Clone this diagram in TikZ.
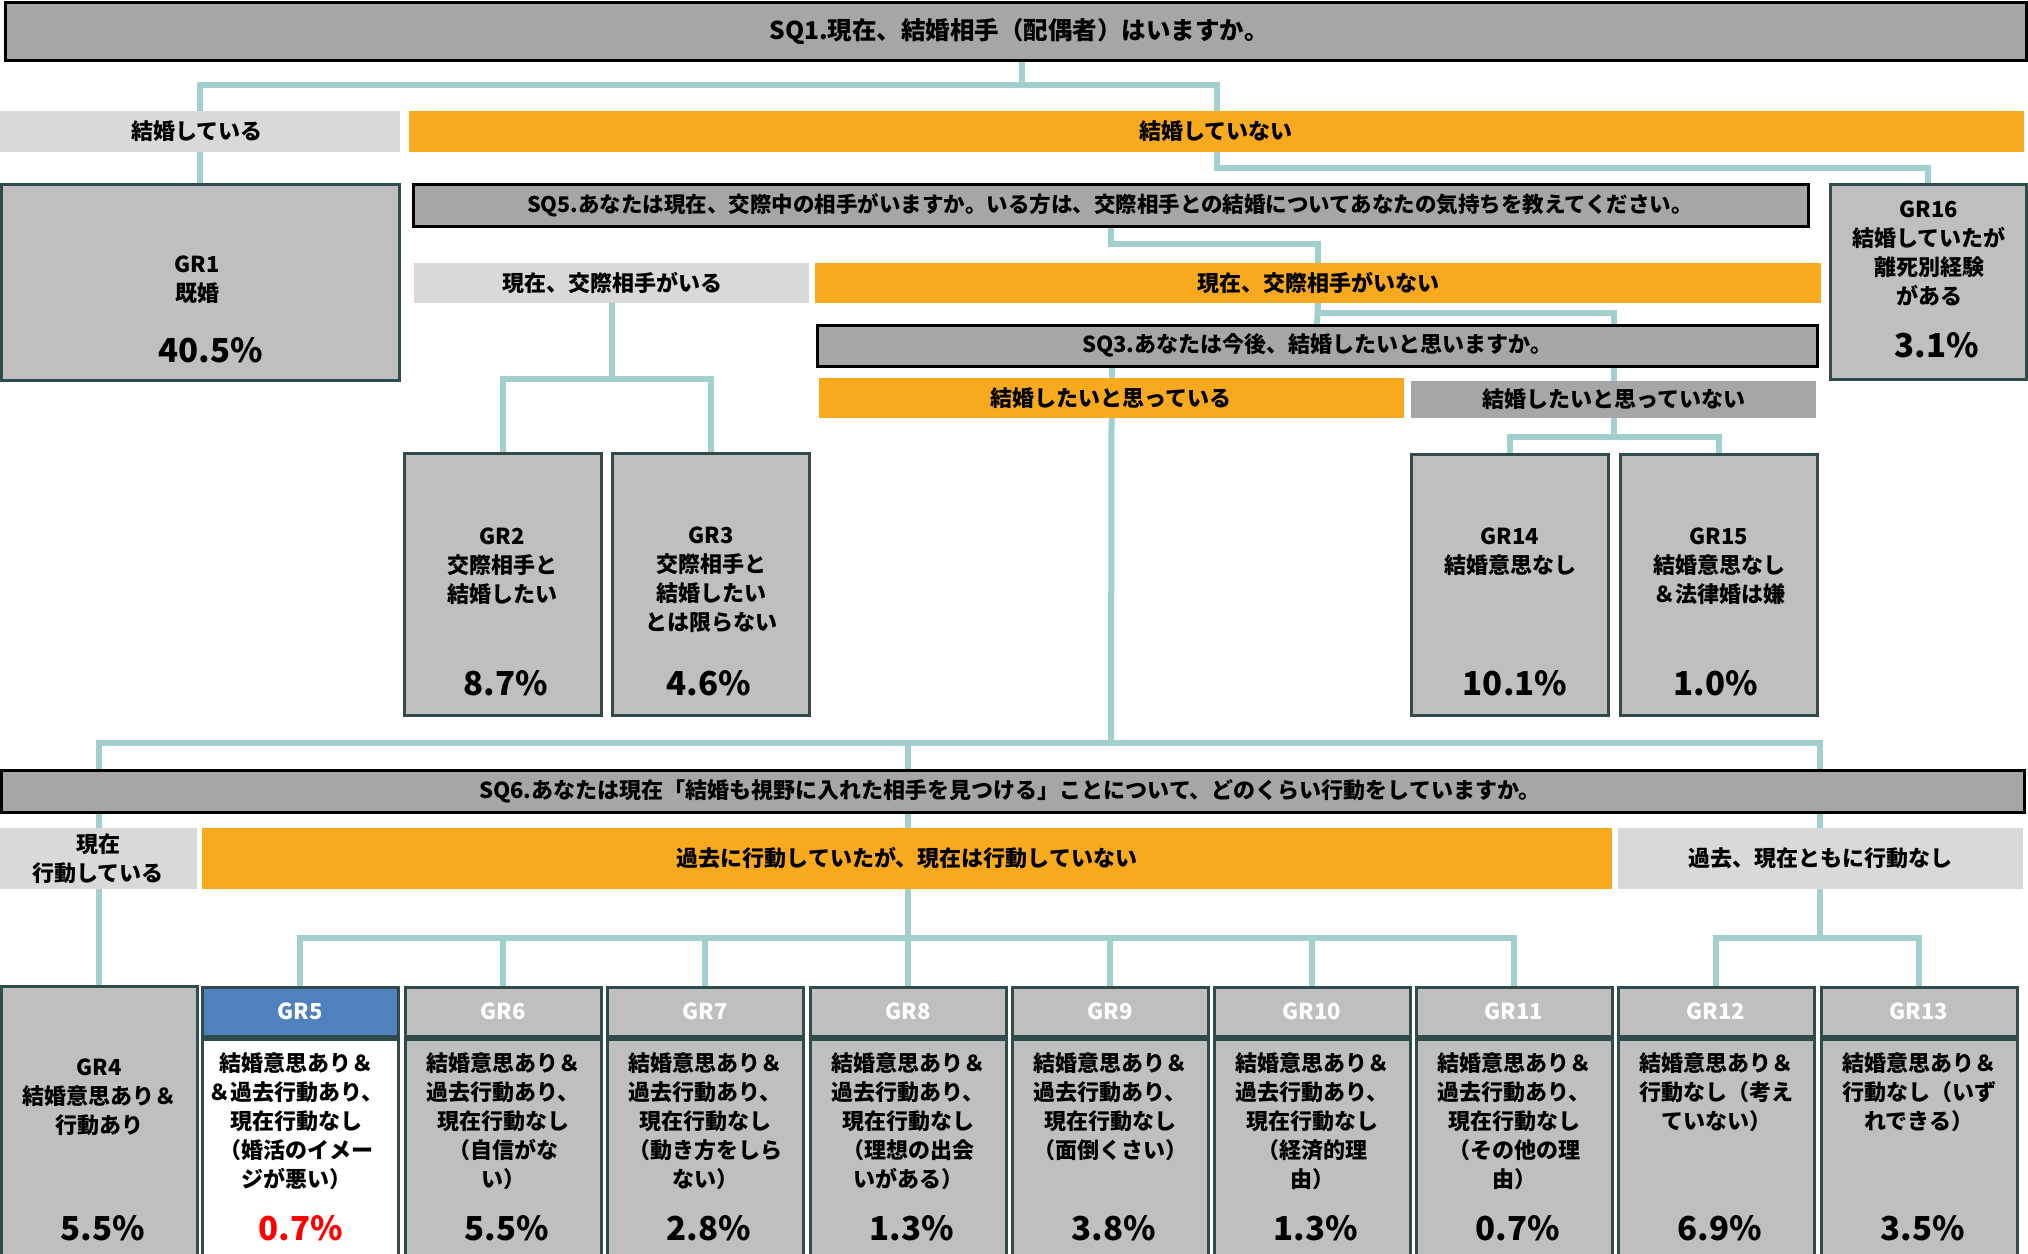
\documentclass[tikz,border=0pt]{standalone}
\usepackage{fontspec}
\setmainfont{Noto Sans CJK JP}
\usetikzlibrary{backgrounds,calc}
\definecolor{sqgray}{HTML}{A6A6A6}
\definecolor{lgray}{HTML}{D9D9D9}
\definecolor{orng}{HTML}{F8AA1E}
\definecolor{boxg}{HTML}{BFBFBF}
\definecolor{bord}{HTML}{2F4B4B}
\definecolor{connc}{HTML}{A3D0CE}
\definecolor{hblue}{HTML}{4F81BD}
\tikzset{
 sz/.style 2 args={minimum width=#1, minimum height=#2},
 rect/.style={rectangle, inner sep=0pt, outer sep=0pt, anchor=north west},
 sqbox/.style={rect, fill=sqgray, draw=black, line width=3pt},
 lband/.style={rect, fill=lgray},
 oband/.style={rect, fill=orng},
 gband/.style={rect, fill=sqgray},
 grbox/.style={rect, fill=boxg, draw=bord, line width=3pt},
 hdr/.style={rect, fill=boxg, draw=bord, line width=3pt},
 txt/.style={align=center, inner sep=0pt, font=\fontsize{22}{29}\selectfont\bfseries},
 htxt/.style={inner sep=0pt, text=white, font=\fontsize{22}{29}\selectfont\bfseries},
 pct/.style={inner sep=0pt, font=\fontsize{33}{33}\selectfont\bfseries},
 link/.style={draw=connc, line width=6pt},
}
\newcommand\grcol[5]{%
 \node[hdr, sz={196}{49}] (gr#1h) at (#2,987) {};
 \node[htxt] (gr#1n) at (gr#1h.center) {GR#1};
 \node[grbox, sz={196}{230}] (gr#1) at (#2,1039) {};
 \node[txt] (gr#1t) at ($(gr#1.north)+(0,#4)$) {#3};
 \node[pct] (gr#1p) at ($(gr#1.north)+(4,189)$) {#5\%};
}
\begin{document}
\begin{tikzpicture}[x=1pt,y=-1pt]
\useasboundingbox (0,0) rectangle (2028,1253);
\clip (0,0) rectangle (2028,1253);

% top level
\node[sqbox, sz={2021}{58}] (sq1) at (5,2) {};
\node[txt, font=\fontsize{24.5}{29}\selectfont\bfseries] (sq1t) at (1019,31) {SQ1.現在、結婚相手（配偶者）はいますか。};
\node[lband, sz={400}{41}] (married) at (0,111) {};
\node[txt] (marriedt) at (197,131.5) {結婚している};
\node[oband, sz={1615}{41}] (notmarried) at (409,111) {};
\node[txt] (notmarriedt) at (1216,131.5) {結婚していない};

\node[grbox, sz={398}{196}] (gr1) at (1,184) {};
\node[txt] (gr1t) at (197,280) {GR1\\既婚};
\node[pct] (gr1p) at (211,350) {40.5\%};

\node[grbox, sz={196}{195}] (gr16) at (1830,184) {};
\node[txt] (gr16t) at (1929,253) {GR16\\結婚していたが\\離死別経験\\がある};
\node[pct] (gr16p) at (1937,345) {3.1\%};

\node[sqbox, sz={1395}{42}] (sq5) at (413,184) {};
\node[txt, font=\fontsize{21.5}{29}\selectfont\bfseries] (sq5t) at (1110,205) {SQ5.あなたは現在、交際中の相手がいますか。いる方は、交際相手との結婚についてあなたの気持ちを教えてください。};

\node[lband, sz={395}{40}] (dating) at (414,263) {};
\node[txt] (datingt) at (612,283) {現在、交際相手がいる};
\node[oband, sz={1006}{40}] (notdating) at (815,263) {};
\node[txt] (notdatingt) at (1318,283) {現在、交際相手がいない};

\node[sqbox, sz={1000}{41}] (sq3) at (817,325) {};
\node[txt] (sq3t) at (1317,345.5) {SQ3.あなたは今後、結婚したいと思いますか。};
\node[oband, sz={585}{40}] (want) at (819,378) {};
\node[txt] (wantt) at (1111,398) {結婚したいと思っている};
\node[gband, sz={405}{37}] (notwant) at (1411,381) {};
\node[txt] (notwantt) at (1614,399.5) {結婚したいと思っていない};

\node[grbox, sz={197}{262}] (gr2) at (404,453) {};
\node[txt] (gr2t) at (502,566) {GR2\\交際相手と\\結婚したい};
\node[pct] (gr2p) at (506,683) {8.7\%};
\node[grbox, sz={197}{262}] (gr3) at (612,453) {};
\node[txt] (gr3t) at (711,580) {GR3\\交際相手と\\結婚したい\\とは限らない};
\node[pct] (gr3p) at (709,683) {4.6\%};

\node[grbox, sz={197}{261}] (gr14) at (1411,454) {};
\node[txt] (gr14t) at (1510,552) {GR14\\結婚意思なし};
\node[pct] (gr14p) at (1515,683) {10.1\%};
\node[grbox, sz={197}{261}] (gr15) at (1620,454) {};
\node[txt] (gr15t) at (1719,566) {GR15\\結婚意思なし\\＆法律婚は嫌};
\node[pct] (gr15p) at (1716,683) {1.0\%};

% SQ6 level
\node[sqbox, sz={2023}{42}] (sq6) at (1,770) {};
\node[txt] (sq6t) at (1010,791) {SQ6.あなたは現在「結婚も視野に入れた相手を見つける」ことについて、どのくらい行動をしていますか。};
\node[lband, sz={197}{61}] (acting) at (0,828) {};
\node[txt] (actingt) at (98,858.5) {現在\\行動している};
\node[oband, sz={1410}{61}] (past) at (202,828) {};
\node[txt] (pastt) at (907,858.5) {過去に行動していたが、現在は行動していない};
\node[lband, sz={405}{61}] (never) at (1618,828) {};
\node[txt] (nevert) at (1820,858.5) {過去、現在ともに行動なし};

% bottom row
\node[grbox, sz={196}{290}] (gr4) at (1,986) {};
\node[txt] (gr4t) at (99,1097) {GR4\\結婚意思あり＆\\行動あり};
\node[pct] (gr4p) at (103,1228) {5.5\%};

\node[hdr, fill=hblue, sz={196}{49}] (gr5h) at (202,987) {};
\node[htxt] (gr5n) at (gr5h.center) {GR5};
\node[grbox, fill=white, sz={196}{230}] (gr5) at (202,1039) {};
\node[txt] (gr5t) at ($(gr5.north)+(-4,82)$) {結婚意思あり＆\\＆過去行動あり、\\現在行動なし\\（婚活のイメー\\ジが悪い）};
\node[pct, text=red] (gr5p) at ($(gr5.north)+(1,189)$) {0.7\%};

\grcol{6}{405}{結婚意思あり＆\\過去行動あり、\\現在行動なし\\（自信がな\\い）}{82}{5.5}
\grcol{7}{607}{結婚意思あり＆\\過去行動あり、\\現在行動なし\\（動き方をしら\\ない）}{82}{2.8}
\grcol{8}{810}{結婚意思あり＆\\過去行動あり、\\現在行動なし\\（理想の出会\\いがある）}{82}{1.3}
\grcol{9}{1012}{結婚意思あり＆\\過去行動あり、\\現在行動なし\\（面倒くさい）}{67.5}{3.8}
\grcol{10}{1214}{結婚意思あり＆\\過去行動あり、\\現在行動なし\\（経済的理\\由）}{82}{1.3}
\grcol{11}{1416}{結婚意思あり＆\\過去行動あり、\\現在行動なし\\（その他の理\\由）}{82}{0.7}
\grcol{12}{1618}{結婚意思あり＆\\行動なし（考え\\ていない）}{53}{6.9}
\grcol{13}{1821}{結婚意思あり＆\\行動なし（いず\\れできる）}{53}{3.5}

% connectors
\begin{scope}[on background layer]
 \coordinate (j1) at (1022,85);
 \draw[link] (sq1.south -| j1) -- (j1);
 \draw[link] (married.north) |- (j1) -| (notmarried.north);
 \draw[link] (married.south) -- (gr1.north);
 \draw[link] (notmarried.south) -- ++(0,16) -| (gr16.north);
 \draw[link] (sq5.south) -- ++(0,18) -| (notdating.north);
 \draw[link] (dating.south) -- ++(0,76) -| (gr2.north);
 \draw[link] (dating.south) -- ++(0,76) -| (gr3.north);
 \draw[link] (notdating.south) -- (sq3.north);
 \draw[link] (notdating.south) -- ++(0,10) -| (notwant.north);
 \draw[link] (want.north) -- (want.north |- sq3.south);
 \draw[link] (notwant.south) -- ++(0,19) -| (gr14.north);
 \draw[link] (notwant.south) -- ++(0,19) -| (gr15.north);
 \coordinate (bus) at (1111,743);
 \draw[link] (want.south) -- (bus);
 \draw[link] (bus) -| (gr4.north);
 \coordinate (b5) at (908,938);
 \coordinate (b12) at (1820,938);
 \draw[link] (bus) -| (b5);
 \draw[link] (bus) -| (b12);
 \foreach \g in {5,...,11} \draw[link] (b5) -| (gr\g h.north);
 \draw[link] (b12) -| (gr12h.north);
 \draw[link] (b12) -| (gr13h.north);
\end{scope}
\end{tikzpicture}
\end{document}
